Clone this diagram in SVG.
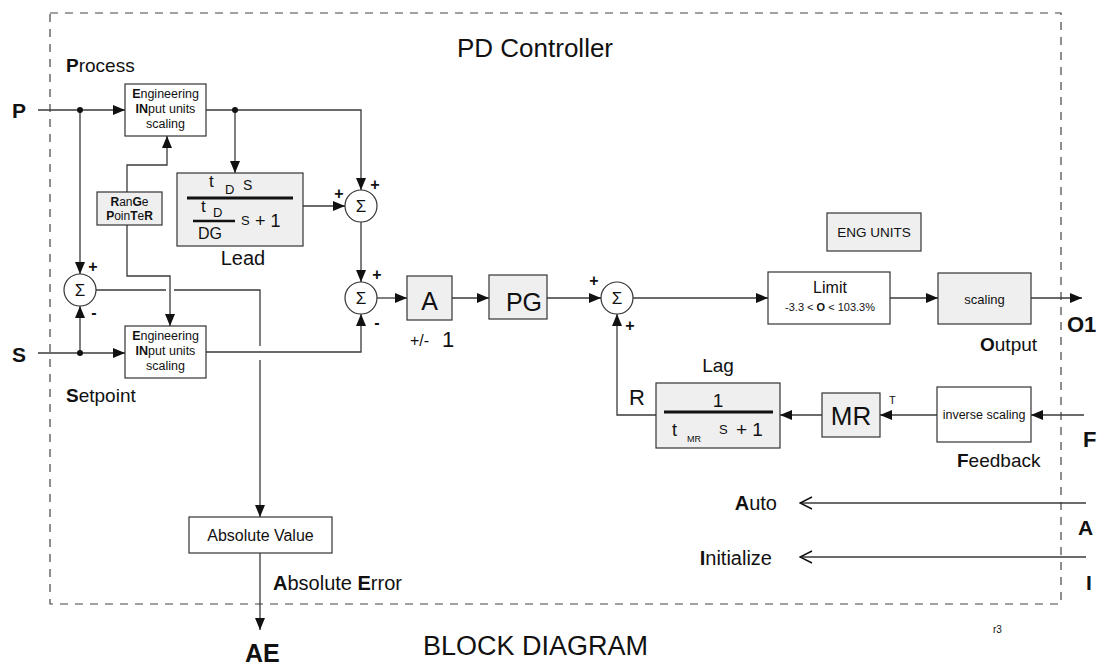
<svg xmlns="http://www.w3.org/2000/svg" width="1106" height="668" viewBox="0 0 1106 668">
<style>
text{font-family:"Liberation Sans",Arial,sans-serif;fill:#111}
.b{font-weight:bold}
.box{fill:#fff;stroke:#333;stroke-width:1.2}
.gbox{fill:#efefef;stroke:#333;stroke-width:1.2}
.sum{fill:#fff;stroke:#333;stroke-width:1.2}
.ln{fill:none;stroke:#3a3a3a;stroke-width:1.3}
.arr{marker-end:url(#ah)}
.oarr{marker-end:url(#oh)}
.bar{stroke:#111}
.m{text-anchor:middle}
</style>
<defs>
<marker id="ah" viewBox="0 0 12 10" refX="12" refY="5" markerWidth="12" markerHeight="10" markerUnits="userSpaceOnUse" orient="auto">
<path d="M0,0 L12,5 L0,10 Z" fill="#111"/>
</marker>
<marker id="oh" viewBox="0 0 14 14" refX="13" refY="7" markerWidth="14" markerHeight="14" markerUnits="userSpaceOnUse" orient="auto">
<path d="M1,1 L13,7 L1,13" fill="none" stroke="#111" stroke-width="1.5"/>
</marker>
</defs>

<rect x="50" y="13" width="1011" height="591" fill="none" stroke="#444" stroke-width="1.2" stroke-dasharray="8 7"/>
<text x="535" y="57" class="m" font-size="26">PD Controller</text>
<text x="423" y="655" font-size="27">BLOCK DIAGRAM</text>
<text x="993" y="633" font-size="10">r3</text>

<g id="connectors">
<path class="ln arr" d="M38,110 H125"/>
<path class="ln arr" d="M80,110 V274"/>
<path class="ln arr" d="M38,353 H125"/>
<path class="ln arr" d="M80,353 V306"/>
<path class="ln" d="M96,290 H166"/>
<path class="ln" d="M174,290 H260 V346"/>
<path class="ln arr" d="M260,360 V517"/>
<path class="ln arr" d="M260,553 V630"/>
<path class="ln arr" d="M206,110 H361 V190"/>
<path class="ln arr" d="M235,110 V173"/>
<path class="ln arr" d="M303,206 H345"/>
<path class="ln arr" d="M361,222 V282"/>
<path class="ln arr" d="M206,352 H361 V314"/>
<path class="ln arr" d="M377,298 H407"/>
<path class="ln arr" d="M452,298 H489"/>
<path class="ln arr" d="M547,298 H601"/>
<path class="ln arr" d="M633,298 H768"/>
<path class="ln arr" d="M890,298 H938"/>
<path class="ln arr" d="M1031,298 H1082"/>
<path class="ln arr" d="M1084,415 H1031"/>
<path class="ln arr" d="M937,415 H880"/>
<path class="ln arr" d="M822,415 H780"/>
<path class="ln arr" d="M656,415 H617 V314"/>
<path class="ln arr" d="M127,192 V165 H167 V136"/>
<path class="ln arr" d="M127,225 V276 H170 V326"/>
<path class="ln oarr" d="M1086,503 H800"/>
<path class="ln oarr" d="M1086,557 H800"/>
<circle cx="80" cy="110" r="3" fill="#111"/>
<circle cx="235" cy="110" r="3" fill="#111"/>
<circle cx="80" cy="353" r="3" fill="#111"/>
</g>

<g id="labels">
<text x="12" y="118" class="b" font-size="21">P</text>
<text x="12" y="362" class="b" font-size="21">S</text>
<text x="1067" y="332" class="b" font-size="22">O1</text>
<text x="1083" y="447" class="b" font-size="22">F</text>
<text x="1078" y="535" class="b" font-size="21">A</text>
<text x="1086" y="590" class="b" font-size="21">I</text>
<text x="66" y="72" font-size="19"><tspan class="b">P</tspan>rocess</text>
<text x="66" y="402" font-size="19"><tspan class="b">S</tspan>etpoint</text>
<text x="980" y="351" font-size="19"><tspan class="b">O</tspan>utput</text>
<text x="957" y="467" font-size="19"><tspan class="b">F</tspan>eedback</text>
<text x="777" y="510" text-anchor="end" font-size="20"><tspan class="b">A</tspan>uto</text>
<text x="772" y="565" text-anchor="end" font-size="20"><tspan class="b">I</tspan>nitialize</text>
<text x="273" y="590" font-size="20"><tspan class="b">A</tspan>bsolute <tspan class="b">E</tspan>rror</text>
<text x="245" y="662" class="b" font-size="25">AE</text>
</g>

<g id="eng-in-p">
<rect class="box" x="125" y="84" width="81" height="52"/>
<text x="165.5" y="98" class="m" font-size="12.5"><tspan class="b">E</tspan>ngineering</text>
<text x="165.5" y="113" class="m" font-size="12.5"><tspan class="b">IN</tspan>put units</text>
<text x="165.5" y="128" class="m" font-size="12.5">scaling</text>
</g>

<g id="eng-in-s">
<rect class="box" x="125" y="326" width="81" height="52"/>
<text x="165.5" y="340" class="m" font-size="12.5"><tspan class="b">E</tspan>ngineering</text>
<text x="165.5" y="355" class="m" font-size="12.5"><tspan class="b">IN</tspan>put units</text>
<text x="165.5" y="370" class="m" font-size="12.5">scaling</text>
</g>

<g id="range-pointer">
<rect class="gbox" x="97" y="192" width="65" height="33"/>
<text x="129.5" y="206" class="m" font-size="12"><tspan class="b">R</tspan>an<tspan class="b">G</tspan>e</text>
<text x="129.5" y="220" class="m" font-size="12"><tspan class="b">P</tspan>oin<tspan class="b">T</tspan>e<tspan class="b">R</tspan></text>
</g>

<g id="sum-err">
<circle class="sum" cx="80" cy="290" r="16"/>
<text x="80" y="296" class="m" font-size="17">Σ</text>
<text x="93" y="272" class="m b" font-size="16">+</text>
<text x="94" y="318" class="m b" font-size="16">-</text>
</g>

<g id="lead">
<rect class="gbox" x="177" y="173" width="126" height="73"/>
<text x="209" y="187" font-size="17">t</text>
<text x="225" y="194" font-size="13">D</text>
<text x="243" y="190" font-size="14">S</text>
<line class="bar" x1="187" y1="198" x2="293" y2="198" stroke-width="3"/>
<text x="201" y="212" font-size="17">t</text>
<text x="213" y="217" font-size="13">D</text>
<line class="bar" x1="193" y1="221" x2="235" y2="221" stroke-width="2.5"/>
<text x="198" y="239" font-size="16">DG</text>
<text x="241" y="225" font-size="13">S</text>
<text x="255" y="227" font-size="18">+ 1</text>
<text x="243" y="265" class="m" font-size="20">Lead</text>
</g>

<g id="sum-d">
<circle class="sum" cx="361" cy="206" r="16"/>
<text x="361" y="212" class="m" font-size="17">Σ</text>
<text x="339" y="199" class="m b" font-size="16">+</text>
<text x="375" y="190" class="m b" font-size="16">+</text>
</g>

<g id="sum-e">
<circle class="sum" cx="361" cy="298" r="16"/>
<text x="361" y="304" class="m" font-size="17">Σ</text>
<text x="377" y="280" class="m b" font-size="16">+</text>
<text x="377" y="328" class="m b" font-size="16">-</text>
</g>

<g id="a-block">
<rect class="gbox" x="407" y="276" width="45" height="44"/>
<text x="429.5" y="310" class="m" font-size="25">A</text>
<text x="410" y="346" font-size="16">+/-</text>
<text x="442" y="347" font-size="22">1</text>
</g>

<g id="pg">
<rect class="gbox" x="489" y="275" width="58" height="44"/>
<text x="524" y="311" class="m" font-size="25">PG</text>
</g>

<g id="sum-out">
<circle class="sum" cx="617" cy="298" r="16"/>
<text x="617" y="304" class="m" font-size="17">Σ</text>
<text x="594" y="286" class="m b" font-size="16">+</text>
<text x="630" y="331" class="m b" font-size="16">+</text>
</g>

<g id="eng-units">
<rect class="gbox" x="827" y="213" width="94" height="38"/>
<text x="874" y="237" class="m" font-size="13.5">ENG UNITS</text>
</g>

<g id="limit">
<rect class="box" x="768" y="272" width="122" height="52"/>
<text x="830" y="293" class="m" font-size="16">Limit</text>
<text x="830" y="311" class="m" font-size="11">-3.3 &lt; <tspan class="b">O</tspan> &lt; 103.3%</text>
</g>

<g id="scaling">
<rect class="gbox" x="938" y="273" width="93" height="51"/>
<text x="984.5" y="304" class="m" font-size="13">scaling</text>
</g>

<g id="inverse-scaling">
<rect class="box" x="937" y="387" width="94" height="55"/>
<text x="984" y="419" class="m" font-size="12.5">inverse scaling</text>
</g>

<g id="mr">
<rect class="gbox" x="822" y="393" width="58" height="44"/>
<text x="851" y="425" class="m" font-size="26">MR</text>
<text x="889" y="404" font-size="11">T</text>
</g>

<g id="lag">
<rect class="gbox" x="656" y="383" width="124" height="65"/>
<text x="718" y="407" class="m" font-size="19">1</text>
<line class="bar" x1="664" y1="412" x2="773" y2="412" stroke-width="3"/>
<text x="672" y="436" font-size="18">t</text>
<text x="687" y="442" font-size="9">MR</text>
<text x="719" y="434" font-size="13">S</text>
<text x="736" y="436" font-size="19">+ 1</text>
<text x="718" y="372" class="m" font-size="19">Lag</text>
<text x="629" y="405" font-size="22">R</text>
</g>

<g id="abs-value">
<rect class="box" x="189" y="517" width="143" height="36"/>
<text x="260.5" y="541" class="m" font-size="16">Absolute Value</text>
</g>
</svg>
